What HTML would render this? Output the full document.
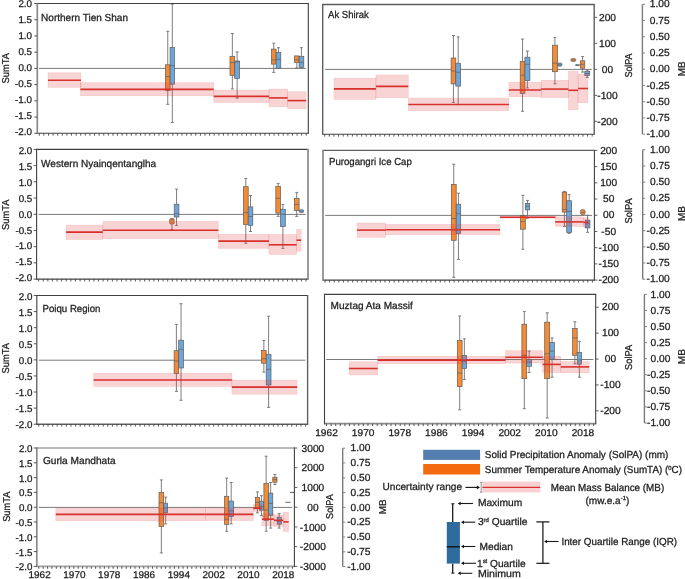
<!DOCTYPE html><html><head><meta charset="utf-8"><style>html,body{margin:0;padding:0;background:#fff;width:685px;height:579px;overflow:hidden}svg{display:block;text-rendering:geometricPrecision;will-change:transform}text{font-family:"Liberation Sans", sans-serif;stroke:#222;stroke-width:0.28px}</style></head><body>
<svg width="685" height="579" viewBox="0 0 685 579">
<rect width="685" height="579" fill="#fff"/>
<line x1="39" y1="68.4" x2="305.8" y2="68.4" stroke="#7a7a7a" stroke-width="1"/>
<line x1="167.75" y1="31.3" x2="167.75" y2="64.8" stroke="#707070" stroke-width="0.9"/>
<line x1="166.25" y1="31.3" x2="169.25" y2="31.3" stroke="#707070" stroke-width="0.9"/>
<line x1="167.75" y1="90.4" x2="167.75" y2="104.3" stroke="#707070" stroke-width="0.9"/>
<line x1="166.25" y1="104.3" x2="169.25" y2="104.3" stroke="#707070" stroke-width="0.9"/>
<rect x="165.4" y="64.8" width="4.7" height="25.6" fill="#f58a34" stroke="#5c5c5c" stroke-width="0.7"/>
<line x1="165.4" y1="76.6" x2="170.1" y2="76.6" stroke="#5c5c5c" stroke-width="0.7"/>
<line x1="172.3" y1="4.1" x2="172.3" y2="47.4" stroke="#707070" stroke-width="0.9"/>
<line x1="170.8" y1="4.1" x2="173.8" y2="4.1" stroke="#707070" stroke-width="0.9"/>
<line x1="172.3" y1="84.2" x2="172.3" y2="122.5" stroke="#707070" stroke-width="0.9"/>
<line x1="170.8" y1="122.5" x2="173.8" y2="122.5" stroke="#707070" stroke-width="0.9"/>
<rect x="170.1" y="47.4" width="4.4" height="36.8" fill="#6da6d8" stroke="#5c5c5c" stroke-width="0.7"/>
<line x1="170.1" y1="65.6" x2="174.5" y2="65.6" stroke="#5c5c5c" stroke-width="0.7"/>
<line x1="232.35" y1="33.5" x2="232.35" y2="56.3" stroke="#707070" stroke-width="0.9"/>
<line x1="230.85" y1="33.5" x2="233.85" y2="33.5" stroke="#707070" stroke-width="0.9"/>
<line x1="232.35" y1="75.3" x2="232.35" y2="88.9" stroke="#707070" stroke-width="0.9"/>
<line x1="230.85" y1="88.9" x2="233.85" y2="88.9" stroke="#707070" stroke-width="0.9"/>
<rect x="230" y="56.3" width="4.7" height="19" fill="#f58a34" stroke="#5c5c5c" stroke-width="0.7"/>
<line x1="230" y1="62.6" x2="234.7" y2="62.6" stroke="#5c5c5c" stroke-width="0.7"/>
<line x1="237.15" y1="51.9" x2="237.15" y2="61" stroke="#707070" stroke-width="0.9"/>
<line x1="235.65" y1="51.9" x2="238.65" y2="51.9" stroke="#707070" stroke-width="0.9"/>
<line x1="237.15" y1="78.4" x2="237.15" y2="98.2" stroke="#707070" stroke-width="0.9"/>
<line x1="235.65" y1="98.2" x2="238.65" y2="98.2" stroke="#707070" stroke-width="0.9"/>
<rect x="234.7" y="61" width="4.9" height="17.4" fill="#6da6d8" stroke="#5c5c5c" stroke-width="0.7"/>
<line x1="234.7" y1="61.8" x2="239.6" y2="61.8" stroke="#5c5c5c" stroke-width="0.7"/>
<line x1="273.75" y1="43.2" x2="273.75" y2="49.1" stroke="#707070" stroke-width="0.9"/>
<line x1="272.25" y1="43.2" x2="275.25" y2="43.2" stroke="#707070" stroke-width="0.9"/>
<line x1="273.75" y1="64.1" x2="273.75" y2="72.4" stroke="#707070" stroke-width="0.9"/>
<line x1="272.25" y1="72.4" x2="275.25" y2="72.4" stroke="#707070" stroke-width="0.9"/>
<rect x="271.4" y="49.1" width="4.7" height="15" fill="#f58a34" stroke="#5c5c5c" stroke-width="0.7"/>
<line x1="271.4" y1="60" x2="276.1" y2="60" stroke="#5c5c5c" stroke-width="0.7"/>
<line x1="278.45" y1="47.7" x2="278.45" y2="52.3" stroke="#707070" stroke-width="0.9"/>
<line x1="276.95" y1="47.7" x2="279.95" y2="47.7" stroke="#707070" stroke-width="0.9"/>
<rect x="276.1" y="52.3" width="4.7" height="15.9" fill="#6da6d8" stroke="#5c5c5c" stroke-width="0.7"/>
<line x1="276.1" y1="59.3" x2="280.8" y2="59.3" stroke="#5c5c5c" stroke-width="0.7"/>
<line x1="296.85" y1="62.6" x2="296.85" y2="68" stroke="#707070" stroke-width="0.9"/>
<line x1="295.35" y1="68" x2="298.35" y2="68" stroke="#707070" stroke-width="0.9"/>
<rect x="294.6" y="55.9" width="4.5" height="6.7" fill="#f58a34" stroke="#5c5c5c" stroke-width="0.7"/>
<line x1="294.6" y1="60" x2="299.1" y2="60" stroke="#5c5c5c" stroke-width="0.7"/>
<line x1="301.45" y1="47.7" x2="301.45" y2="56.3" stroke="#707070" stroke-width="0.9"/>
<line x1="299.95" y1="47.7" x2="302.95" y2="47.7" stroke="#707070" stroke-width="0.9"/>
<line x1="301.45" y1="67.3" x2="301.45" y2="68" stroke="#707070" stroke-width="0.9"/>
<line x1="299.95" y1="68" x2="302.95" y2="68" stroke="#707070" stroke-width="0.9"/>
<rect x="299.1" y="56.3" width="4.7" height="11" fill="#6da6d8" stroke="#5c5c5c" stroke-width="0.7"/>
<line x1="299.1" y1="62.4" x2="303.8" y2="62.4" stroke="#5c5c5c" stroke-width="0.7"/>
<rect x="48" y="72.8" width="33" height="14.6" fill="rgba(228,60,62,0.22)" stroke="rgba(228,60,62,0.18)" stroke-width="0.6"/>
<rect x="80.4" y="82.6" width="133.3" height="13.2" fill="rgba(228,60,62,0.22)" stroke="rgba(228,60,62,0.18)" stroke-width="0.6"/>
<rect x="213.7" y="90.1" width="55.4" height="12.4" fill="rgba(228,60,62,0.22)" stroke="rgba(228,60,62,0.18)" stroke-width="0.6"/>
<rect x="269.1" y="89" width="18.5" height="17.8" fill="rgba(228,60,62,0.22)" stroke="rgba(228,60,62,0.18)" stroke-width="0.6"/>
<rect x="287.6" y="91.7" width="18.5" height="17.1" fill="rgba(228,60,62,0.22)" stroke="rgba(228,60,62,0.18)" stroke-width="0.6"/>
<line x1="48" y1="80.3" x2="81" y2="80.3" stroke="#d8312c" stroke-width="1.6"/>
<line x1="80.4" y1="89.4" x2="213.7" y2="89.4" stroke="#d8312c" stroke-width="1.6"/>
<line x1="213.7" y1="96.4" x2="269.1" y2="96.4" stroke="#d8312c" stroke-width="1.6"/>
<line x1="269.1" y1="97.9" x2="287.6" y2="97.9" stroke="#d8312c" stroke-width="1.6"/>
<line x1="287.6" y1="100.6" x2="306.1" y2="100.6" stroke="#d8312c" stroke-width="1.6"/>
<line x1="36.8" y1="3.5" x2="308.8" y2="3.5" stroke="#404040" stroke-width="1.1"/>
<line x1="36.8" y1="133.3" x2="308.8" y2="133.3" stroke="#404040" stroke-width="1.1"/>
<line x1="37.3" y1="3" x2="37.3" y2="133.8" stroke="#8a8a8a" stroke-width="1.7"/>
<line x1="308.3" y1="3" x2="308.3" y2="133.8" stroke="#404040" stroke-width="1.1"/>
<path d="M39.3 133.3v2.4M43.9 133.3v2.4M48.51 133.3v2.4M53.11 133.3v2.4M57.71 133.3v2.4M62.32 133.3v2.4M66.92 133.3v2.4M71.52 133.3v2.4M76.13 133.3v2.4M80.73 133.3v2.4M85.33 133.3v2.4M89.94 133.3v2.4M94.54 133.3v2.4M99.14 133.3v2.4M103.75 133.3v2.4M108.35 133.3v2.4M112.96 133.3v2.4M117.56 133.3v2.4M122.16 133.3v2.4M126.77 133.3v2.4M131.37 133.3v2.4M135.97 133.3v2.4M140.58 133.3v2.4M145.18 133.3v2.4M149.78 133.3v2.4M154.39 133.3v2.4M158.99 133.3v2.4M163.59 133.3v2.4M168.2 133.3v2.4M172.8 133.3v2.4M177.4 133.3v2.4M182.01 133.3v2.4M186.61 133.3v2.4M191.21 133.3v2.4M195.82 133.3v2.4M200.42 133.3v2.4M205.02 133.3v2.4M209.63 133.3v2.4M214.23 133.3v2.4M218.83 133.3v2.4M223.44 133.3v2.4M228.04 133.3v2.4M232.64 133.3v2.4M237.25 133.3v2.4M241.85 133.3v2.4M246.46 133.3v2.4M251.06 133.3v2.4M255.66 133.3v2.4M260.27 133.3v2.4M264.87 133.3v2.4M269.47 133.3v2.4M274.08 133.3v2.4M278.68 133.3v2.4M283.28 133.3v2.4M287.89 133.3v2.4M292.49 133.3v2.4M297.09 133.3v2.4M301.7 133.3v2.4M306.3 133.3v2.4" stroke="#454545" stroke-width="0.9"/>
<text x="41.1" y="20.8" font-size="10.2" text-anchor="start" fill="#222" textLength="86.9" lengthAdjust="spacingAndGlyphs">Northern Tien Shan</text>
<line x1="325.1" y1="69.4" x2="591.8" y2="69.4" stroke="#7a7a7a" stroke-width="1"/>
<line x1="453.45" y1="35.5" x2="453.45" y2="58" stroke="#707070" stroke-width="0.9"/>
<line x1="451.95" y1="35.5" x2="454.95" y2="35.5" stroke="#707070" stroke-width="0.9"/>
<line x1="453.45" y1="83.9" x2="453.45" y2="102.4" stroke="#707070" stroke-width="0.9"/>
<line x1="451.95" y1="102.4" x2="454.95" y2="102.4" stroke="#707070" stroke-width="0.9"/>
<rect x="451.1" y="58" width="4.7" height="25.9" fill="#f58a34" stroke="#5c5c5c" stroke-width="0.7"/>
<line x1="451.1" y1="71" x2="455.8" y2="71" stroke="#5c5c5c" stroke-width="0.7"/>
<line x1="458.2" y1="36.9" x2="458.2" y2="63.2" stroke="#707070" stroke-width="0.9"/>
<line x1="456.7" y1="36.9" x2="459.7" y2="36.9" stroke="#707070" stroke-width="0.9"/>
<line x1="458.2" y1="86.1" x2="458.2" y2="104.6" stroke="#707070" stroke-width="0.9"/>
<line x1="456.7" y1="104.6" x2="459.7" y2="104.6" stroke="#707070" stroke-width="0.9"/>
<rect x="455.8" y="63.2" width="4.8" height="22.9" fill="#6da6d8" stroke="#5c5c5c" stroke-width="0.7"/>
<line x1="455.8" y1="72.2" x2="460.6" y2="72.2" stroke="#5c5c5c" stroke-width="0.7"/>
<line x1="522.55" y1="39" x2="522.55" y2="61.5" stroke="#707070" stroke-width="0.9"/>
<line x1="521.05" y1="39" x2="524.05" y2="39" stroke="#707070" stroke-width="0.9"/>
<line x1="522.55" y1="93.4" x2="522.55" y2="111.3" stroke="#707070" stroke-width="0.9"/>
<line x1="521.05" y1="111.3" x2="524.05" y2="111.3" stroke="#707070" stroke-width="0.9"/>
<rect x="520.2" y="61.5" width="4.7" height="31.9" fill="#f58a34" stroke="#5c5c5c" stroke-width="0.7"/>
<line x1="520.2" y1="75.2" x2="524.9" y2="75.2" stroke="#5c5c5c" stroke-width="0.7"/>
<line x1="527.4" y1="51" x2="527.4" y2="57.2" stroke="#707070" stroke-width="0.9"/>
<line x1="525.9" y1="51" x2="528.9" y2="51" stroke="#707070" stroke-width="0.9"/>
<line x1="527.4" y1="80.5" x2="527.4" y2="88" stroke="#707070" stroke-width="0.9"/>
<line x1="525.9" y1="88" x2="528.9" y2="88" stroke="#707070" stroke-width="0.9"/>
<rect x="524.9" y="57.2" width="5" height="23.3" fill="#6da6d8" stroke="#5c5c5c" stroke-width="0.7"/>
<line x1="524.9" y1="64.3" x2="529.9" y2="64.3" stroke="#5c5c5c" stroke-width="0.7"/>
<line x1="554.95" y1="37.4" x2="554.95" y2="45.2" stroke="#707070" stroke-width="0.9"/>
<line x1="553.45" y1="37.4" x2="556.45" y2="37.4" stroke="#707070" stroke-width="0.9"/>
<line x1="554.95" y1="71.7" x2="554.95" y2="83.8" stroke="#707070" stroke-width="0.9"/>
<line x1="553.45" y1="83.8" x2="556.45" y2="83.8" stroke="#707070" stroke-width="0.9"/>
<rect x="552.4" y="45.2" width="5.1" height="26.5" fill="#f58a34" stroke="#5c5c5c" stroke-width="0.7"/>
<line x1="552.4" y1="63.1" x2="557.5" y2="63.1" stroke="#5c5c5c" stroke-width="0.7"/>
<rect x="557.5" y="63.1" width="4.4" height="3.1" fill="#6da6d8" stroke="#5c5c5c" stroke-width="0.7" rx="1"/>
<line x1="558.3" y1="64.7" x2="561.1" y2="64.7" stroke="#5c5c5c" stroke-width="0.7"/>
<rect x="570.8" y="58.6" width="5.1" height="2.8" fill="#f58a34" stroke="#5c5c5c" stroke-width="0.7" rx="1.4"/>
<line x1="571.6" y1="60" x2="575.1" y2="60" stroke="#5c5c5c" stroke-width="0.7"/>
<rect x="575.7" y="64.8" width="3.6" height="0.6" fill="#6da6d8" stroke="#5c5c5c" stroke-width="0.7"/>
<line x1="575.7" y1="65.1" x2="579.3" y2="65.1" stroke="#5c5c5c" stroke-width="0.7"/>
<line x1="582.6" y1="56.6" x2="582.6" y2="60.8" stroke="#707070" stroke-width="0.9"/>
<line x1="581.1" y1="56.6" x2="584.1" y2="56.6" stroke="#707070" stroke-width="0.9"/>
<line x1="582.6" y1="68.2" x2="582.6" y2="72.1" stroke="#707070" stroke-width="0.9"/>
<line x1="581.1" y1="72.1" x2="584.1" y2="72.1" stroke="#707070" stroke-width="0.9"/>
<rect x="580.4" y="60.8" width="4.4" height="7.4" fill="#f58a34" stroke="#5c5c5c" stroke-width="0.7"/>
<line x1="580.4" y1="64.3" x2="584.8" y2="64.3" stroke="#5c5c5c" stroke-width="0.7"/>
<line x1="587.25" y1="70.1" x2="587.25" y2="71.3" stroke="#707070" stroke-width="0.9"/>
<line x1="585.75" y1="70.1" x2="588.75" y2="70.1" stroke="#707070" stroke-width="0.9"/>
<line x1="587.25" y1="75.5" x2="587.25" y2="77.4" stroke="#707070" stroke-width="0.9"/>
<line x1="585.75" y1="77.4" x2="588.75" y2="77.4" stroke="#707070" stroke-width="0.9"/>
<rect x="584.8" y="71.3" width="4.9" height="4.2" fill="#6da6d8" stroke="#5c5c5c" stroke-width="0.7"/>
<line x1="584.8" y1="73.5" x2="589.7" y2="73.5" stroke="#5c5c5c" stroke-width="0.7"/>
<rect x="333.9" y="78.2" width="42" height="21.2" fill="rgba(228,60,62,0.22)" stroke="rgba(228,60,62,0.18)" stroke-width="0.6"/>
<rect x="375.9" y="74.9" width="32.4" height="22.8" fill="rgba(228,60,62,0.22)" stroke="rgba(228,60,62,0.18)" stroke-width="0.6"/>
<rect x="408.3" y="98.1" width="100.6" height="12.6" fill="rgba(228,60,62,0.22)" stroke="rgba(228,60,62,0.18)" stroke-width="0.6"/>
<rect x="508.9" y="82.3" width="32.3" height="14.5" fill="rgba(228,60,62,0.22)" stroke="rgba(228,60,62,0.18)" stroke-width="0.6"/>
<rect x="541.2" y="80.2" width="27.2" height="17.4" fill="rgba(228,60,62,0.22)" stroke="rgba(228,60,62,0.18)" stroke-width="0.6"/>
<rect x="568.4" y="71.2" width="9.7" height="38.6" fill="rgba(228,60,62,0.22)" stroke="rgba(228,60,62,0.18)" stroke-width="0.6"/>
<rect x="578.1" y="74" width="9.8" height="28.8" fill="rgba(228,60,62,0.22)" stroke="rgba(228,60,62,0.18)" stroke-width="0.6"/>
<line x1="333.9" y1="88.9" x2="375.9" y2="88.9" stroke="#d8312c" stroke-width="1.6"/>
<line x1="375.9" y1="86.4" x2="408.3" y2="86.4" stroke="#d8312c" stroke-width="1.6"/>
<line x1="408.3" y1="104.5" x2="508.9" y2="104.5" stroke="#d8312c" stroke-width="1.6"/>
<line x1="508.9" y1="90" x2="541.2" y2="90" stroke="#d8312c" stroke-width="1.6"/>
<line x1="541.2" y1="89.1" x2="568.4" y2="89.1" stroke="#d8312c" stroke-width="1.6"/>
<line x1="568.4" y1="90.3" x2="578.1" y2="90.3" stroke="#d8312c" stroke-width="1.6"/>
<line x1="578.1" y1="88.5" x2="587.9" y2="88.5" stroke="#d8312c" stroke-width="1.6"/>
<line x1="322.2" y1="4.5" x2="594.7" y2="4.5" stroke="#5e5e5e" stroke-width="1.4"/>
<line x1="322.2" y1="134.2" x2="594.7" y2="134.2" stroke="#404040" stroke-width="1.1"/>
<line x1="322.7" y1="4" x2="322.7" y2="134.7" stroke="#5e5e5e" stroke-width="1.4"/>
<line x1="594.2" y1="4" x2="594.2" y2="134.7" stroke="#5e5e5e" stroke-width="1.4"/>
<path d="M324.7 134.2v2.4M329.31 134.2v2.4M333.92 134.2v2.4M338.54 134.2v2.4M343.15 134.2v2.4M347.76 134.2v2.4M352.37 134.2v2.4M356.98 134.2v2.4M361.6 134.2v2.4M366.21 134.2v2.4M370.82 134.2v2.4M375.43 134.2v2.4M380.04 134.2v2.4M384.66 134.2v2.4M389.27 134.2v2.4M393.88 134.2v2.4M398.49 134.2v2.4M403.11 134.2v2.4M407.72 134.2v2.4M412.33 134.2v2.4M416.94 134.2v2.4M421.55 134.2v2.4M426.17 134.2v2.4M430.78 134.2v2.4M435.39 134.2v2.4M440 134.2v2.4M444.61 134.2v2.4M449.23 134.2v2.4M453.84 134.2v2.4M458.45 134.2v2.4M463.06 134.2v2.4M467.67 134.2v2.4M472.29 134.2v2.4M476.9 134.2v2.4M481.51 134.2v2.4M486.12 134.2v2.4M490.73 134.2v2.4M495.35 134.2v2.4M499.96 134.2v2.4M504.57 134.2v2.4M509.18 134.2v2.4M513.79 134.2v2.4M518.41 134.2v2.4M523.02 134.2v2.4M527.63 134.2v2.4M532.24 134.2v2.4M536.86 134.2v2.4M541.47 134.2v2.4M546.08 134.2v2.4M550.69 134.2v2.4M555.3 134.2v2.4M559.92 134.2v2.4M564.53 134.2v2.4M569.14 134.2v2.4M573.75 134.2v2.4M578.36 134.2v2.4M582.98 134.2v2.4M587.59 134.2v2.4M592.2 134.2v2.4" stroke="#454545" stroke-width="0.9"/>
<text x="328.1" y="17.7" font-size="10.2" text-anchor="start" fill="#222" textLength="40.7" lengthAdjust="spacingAndGlyphs">Ak Shirak</text>
<line x1="38.6" y1="214.4" x2="305.8" y2="214.4" stroke="#7a7a7a" stroke-width="1"/>
<line x1="171.95" y1="224" x2="171.95" y2="229.5" stroke="#707070" stroke-width="0.9"/>
<line x1="170.45" y1="229.5" x2="173.45" y2="229.5" stroke="#707070" stroke-width="0.9"/>
<rect x="169.7" y="218.5" width="4.5" height="5.5" fill="#f58a34" stroke="#5c5c5c" stroke-width="0.7" rx="1.2"/>
<line x1="170.5" y1="219.9" x2="173.4" y2="219.9" stroke="#5c5c5c" stroke-width="0.7"/>
<line x1="176.55" y1="189.1" x2="176.55" y2="204.2" stroke="#707070" stroke-width="0.9"/>
<line x1="175.05" y1="189.1" x2="178.05" y2="189.1" stroke="#707070" stroke-width="0.9"/>
<line x1="176.55" y1="217" x2="176.55" y2="225.4" stroke="#707070" stroke-width="0.9"/>
<line x1="175.05" y1="225.4" x2="178.05" y2="225.4" stroke="#707070" stroke-width="0.9"/>
<rect x="174.2" y="204.2" width="4.7" height="12.8" fill="#6da6d8" stroke="#5c5c5c" stroke-width="0.7"/>
<line x1="174.2" y1="213.8" x2="178.9" y2="213.8" stroke="#5c5c5c" stroke-width="0.7"/>
<line x1="245.8" y1="178.5" x2="245.8" y2="186.7" stroke="#707070" stroke-width="0.9"/>
<line x1="244.3" y1="178.5" x2="247.3" y2="178.5" stroke="#707070" stroke-width="0.9"/>
<line x1="245.8" y1="224.4" x2="245.8" y2="243.3" stroke="#707070" stroke-width="0.9"/>
<line x1="244.3" y1="243.3" x2="247.3" y2="243.3" stroke="#707070" stroke-width="0.9"/>
<rect x="243.4" y="186.7" width="4.8" height="37.7" fill="#f58a34" stroke="#5c5c5c" stroke-width="0.7"/>
<line x1="243.4" y1="212.6" x2="248.2" y2="212.6" stroke="#5c5c5c" stroke-width="0.7"/>
<line x1="250.5" y1="195.4" x2="250.5" y2="206.9" stroke="#707070" stroke-width="0.9"/>
<line x1="249" y1="195.4" x2="252" y2="195.4" stroke="#707070" stroke-width="0.9"/>
<line x1="250.5" y1="225.3" x2="250.5" y2="231.5" stroke="#707070" stroke-width="0.9"/>
<line x1="249" y1="231.5" x2="252" y2="231.5" stroke="#707070" stroke-width="0.9"/>
<rect x="248.2" y="206.9" width="4.6" height="18.4" fill="#6da6d8" stroke="#5c5c5c" stroke-width="0.7"/>
<line x1="248.2" y1="216.4" x2="252.8" y2="216.4" stroke="#5c5c5c" stroke-width="0.7"/>
<line x1="278.15" y1="183.4" x2="278.15" y2="186.3" stroke="#707070" stroke-width="0.9"/>
<line x1="276.65" y1="183.4" x2="279.65" y2="183.4" stroke="#707070" stroke-width="0.9"/>
<line x1="278.15" y1="213.1" x2="278.15" y2="216.4" stroke="#707070" stroke-width="0.9"/>
<line x1="276.65" y1="216.4" x2="279.65" y2="216.4" stroke="#707070" stroke-width="0.9"/>
<rect x="275.8" y="186.3" width="4.7" height="26.8" fill="#f58a34" stroke="#5c5c5c" stroke-width="0.7"/>
<line x1="275.8" y1="198.3" x2="280.5" y2="198.3" stroke="#5c5c5c" stroke-width="0.7"/>
<line x1="282.9" y1="204.4" x2="282.9" y2="209.3" stroke="#707070" stroke-width="0.9"/>
<line x1="281.4" y1="204.4" x2="284.4" y2="204.4" stroke="#707070" stroke-width="0.9"/>
<line x1="282.9" y1="226.6" x2="282.9" y2="248.4" stroke="#707070" stroke-width="0.9"/>
<line x1="281.4" y1="248.4" x2="284.4" y2="248.4" stroke="#707070" stroke-width="0.9"/>
<rect x="280.5" y="209.3" width="4.8" height="17.3" fill="#6da6d8" stroke="#5c5c5c" stroke-width="0.7"/>
<line x1="280.5" y1="214.3" x2="285.3" y2="214.3" stroke="#5c5c5c" stroke-width="0.7"/>
<line x1="296.7" y1="192.4" x2="296.7" y2="198.3" stroke="#707070" stroke-width="0.9"/>
<line x1="295.2" y1="192.4" x2="298.2" y2="192.4" stroke="#707070" stroke-width="0.9"/>
<line x1="296.7" y1="210.5" x2="296.7" y2="216.4" stroke="#707070" stroke-width="0.9"/>
<line x1="295.2" y1="216.4" x2="298.2" y2="216.4" stroke="#707070" stroke-width="0.9"/>
<rect x="294.3" y="198.3" width="4.8" height="12.2" fill="#f58a34" stroke="#5c5c5c" stroke-width="0.7"/>
<line x1="294.3" y1="204.4" x2="299.1" y2="204.4" stroke="#5c5c5c" stroke-width="0.7"/>
<rect x="299.1" y="209.7" width="4.6" height="2.9" fill="#6da6d8" stroke="#5c5c5c" stroke-width="0.7" rx="1.4"/>
<line x1="299.9" y1="211.2" x2="302.9" y2="211.2" stroke="#5c5c5c" stroke-width="0.7"/>
<rect x="66.1" y="225.1" width="36.7" height="14.4" fill="rgba(228,60,62,0.22)" stroke="rgba(228,60,62,0.18)" stroke-width="0.6"/>
<rect x="102.8" y="221.4" width="115.6" height="17.2" fill="rgba(228,60,62,0.22)" stroke="rgba(228,60,62,0.18)" stroke-width="0.6"/>
<rect x="218.4" y="234.3" width="50.5" height="14.1" fill="rgba(228,60,62,0.22)" stroke="rgba(228,60,62,0.18)" stroke-width="0.6"/>
<rect x="268.9" y="234.5" width="27.7" height="20" fill="rgba(228,60,62,0.22)" stroke="rgba(228,60,62,0.18)" stroke-width="0.6"/>
<rect x="296.6" y="229.4" width="4.6" height="21.8" fill="rgba(228,60,62,0.22)" stroke="rgba(228,60,62,0.18)" stroke-width="0.6"/>
<line x1="66.1" y1="232.1" x2="102.8" y2="232.1" stroke="#d8312c" stroke-width="1.6"/>
<line x1="102.8" y1="230.2" x2="218.4" y2="230.2" stroke="#d8312c" stroke-width="1.6"/>
<line x1="218.4" y1="241.1" x2="268.9" y2="241.1" stroke="#d8312c" stroke-width="1.6"/>
<line x1="268.9" y1="244.8" x2="296.6" y2="244.8" stroke="#d8312c" stroke-width="1.6"/>
<line x1="296.6" y1="240.2" x2="301.2" y2="240.2" stroke="#d8312c" stroke-width="1.6"/>
<line x1="36.1" y1="149.4" x2="308.5" y2="149.4" stroke="#404040" stroke-width="1.1"/>
<line x1="36.1" y1="279.1" x2="308.5" y2="279.1" stroke="#404040" stroke-width="1.1"/>
<line x1="36.6" y1="148.9" x2="36.6" y2="279.6" stroke="#404040" stroke-width="1.1"/>
<line x1="308" y1="148.9" x2="308" y2="279.6" stroke="#8a8a8a" stroke-width="1.7"/>
<path d="M38.6 279.1v2.4M43.21 279.1v2.4M47.82 279.1v2.4M52.43 279.1v2.4M57.04 279.1v2.4M61.65 279.1v2.4M66.26 279.1v2.4M70.87 279.1v2.4M75.48 279.1v2.4M80.09 279.1v2.4M84.7 279.1v2.4M89.31 279.1v2.4M93.92 279.1v2.4M98.53 279.1v2.4M103.14 279.1v2.4M107.76 279.1v2.4M112.37 279.1v2.4M116.98 279.1v2.4M121.59 279.1v2.4M126.2 279.1v2.4M130.81 279.1v2.4M135.42 279.1v2.4M140.03 279.1v2.4M144.64 279.1v2.4M149.25 279.1v2.4M153.86 279.1v2.4M158.47 279.1v2.4M163.08 279.1v2.4M167.69 279.1v2.4M172.3 279.1v2.4M176.91 279.1v2.4M181.52 279.1v2.4M186.13 279.1v2.4M190.74 279.1v2.4M195.35 279.1v2.4M199.96 279.1v2.4M204.57 279.1v2.4M209.18 279.1v2.4M213.79 279.1v2.4M218.4 279.1v2.4M223.01 279.1v2.4M227.62 279.1v2.4M232.23 279.1v2.4M236.84 279.1v2.4M241.46 279.1v2.4M246.07 279.1v2.4M250.68 279.1v2.4M255.29 279.1v2.4M259.9 279.1v2.4M264.51 279.1v2.4M269.12 279.1v2.4M273.73 279.1v2.4M278.34 279.1v2.4M282.95 279.1v2.4M287.56 279.1v2.4M292.17 279.1v2.4M296.78 279.1v2.4M301.39 279.1v2.4M306 279.1v2.4" stroke="#454545" stroke-width="0.9"/>
<text x="41.1" y="167.2" font-size="10.2" text-anchor="start" fill="#222" textLength="115.1" lengthAdjust="spacingAndGlyphs">Western Nyainqentanglha</text>
<line x1="325.2" y1="215.4" x2="592.1" y2="215.4" stroke="#7a7a7a" stroke-width="1"/>
<line x1="453.75" y1="164.2" x2="453.75" y2="184.4" stroke="#707070" stroke-width="0.9"/>
<line x1="452.25" y1="164.2" x2="455.25" y2="164.2" stroke="#707070" stroke-width="0.9"/>
<line x1="453.75" y1="240.3" x2="453.75" y2="277.4" stroke="#707070" stroke-width="0.9"/>
<line x1="452.25" y1="277.4" x2="455.25" y2="277.4" stroke="#707070" stroke-width="0.9"/>
<rect x="451.3" y="184.4" width="4.9" height="55.9" fill="#f58a34" stroke="#5c5c5c" stroke-width="0.7"/>
<line x1="451.3" y1="218.5" x2="456.2" y2="218.5" stroke="#5c5c5c" stroke-width="0.7"/>
<line x1="458.45" y1="193.2" x2="458.45" y2="204.2" stroke="#707070" stroke-width="0.9"/>
<line x1="456.95" y1="193.2" x2="459.95" y2="193.2" stroke="#707070" stroke-width="0.9"/>
<line x1="458.45" y1="233.3" x2="458.45" y2="259.4" stroke="#707070" stroke-width="0.9"/>
<line x1="456.95" y1="259.4" x2="459.95" y2="259.4" stroke="#707070" stroke-width="0.9"/>
<rect x="456.2" y="204.2" width="4.5" height="29.1" fill="#6da6d8" stroke="#5c5c5c" stroke-width="0.7"/>
<line x1="456.2" y1="213.7" x2="460.7" y2="213.7" stroke="#5c5c5c" stroke-width="0.7"/>
<line x1="522.9" y1="195.3" x2="522.9" y2="215.5" stroke="#707070" stroke-width="0.9"/>
<line x1="521.4" y1="195.3" x2="524.4" y2="195.3" stroke="#707070" stroke-width="0.9"/>
<line x1="522.9" y1="229.2" x2="522.9" y2="249.3" stroke="#707070" stroke-width="0.9"/>
<line x1="521.4" y1="249.3" x2="524.4" y2="249.3" stroke="#707070" stroke-width="0.9"/>
<rect x="520.5" y="215.5" width="4.8" height="13.7" fill="#f58a34" stroke="#5c5c5c" stroke-width="0.7"/>
<line x1="520.5" y1="221.6" x2="525.3" y2="221.6" stroke="#5c5c5c" stroke-width="0.7"/>
<line x1="527.5" y1="200.4" x2="527.5" y2="203.4" stroke="#707070" stroke-width="0.9"/>
<line x1="526" y1="200.4" x2="529" y2="200.4" stroke="#707070" stroke-width="0.9"/>
<line x1="527.5" y1="209.9" x2="527.5" y2="218.2" stroke="#707070" stroke-width="0.9"/>
<line x1="526" y1="218.2" x2="529" y2="218.2" stroke="#707070" stroke-width="0.9"/>
<rect x="525.3" y="203.4" width="4.4" height="6.5" fill="#6da6d8" stroke="#5c5c5c" stroke-width="0.7"/>
<line x1="525.3" y1="206.3" x2="529.7" y2="206.3" stroke="#5c5c5c" stroke-width="0.7"/>
<line x1="564.45" y1="191.4" x2="564.45" y2="192.1" stroke="#707070" stroke-width="0.9"/>
<line x1="562.95" y1="191.4" x2="565.95" y2="191.4" stroke="#707070" stroke-width="0.9"/>
<line x1="564.45" y1="212.1" x2="564.45" y2="226.4" stroke="#707070" stroke-width="0.9"/>
<line x1="562.95" y1="226.4" x2="565.95" y2="226.4" stroke="#707070" stroke-width="0.9"/>
<rect x="562.2" y="192.1" width="4.5" height="20" fill="#f58a34" stroke="#5c5c5c" stroke-width="0.7"/>
<line x1="562.2" y1="209.6" x2="566.7" y2="209.6" stroke="#5c5c5c" stroke-width="0.7"/>
<line x1="569.15" y1="194.6" x2="569.15" y2="200.7" stroke="#707070" stroke-width="0.9"/>
<line x1="567.65" y1="194.6" x2="570.65" y2="194.6" stroke="#707070" stroke-width="0.9"/>
<line x1="569.15" y1="232.6" x2="569.15" y2="233.3" stroke="#707070" stroke-width="0.9"/>
<line x1="567.65" y1="233.3" x2="570.65" y2="233.3" stroke="#707070" stroke-width="0.9"/>
<rect x="566.7" y="200.7" width="4.9" height="31.9" fill="#6da6d8" stroke="#5c5c5c" stroke-width="0.7"/>
<line x1="566.7" y1="211.4" x2="571.6" y2="211.4" stroke="#5c5c5c" stroke-width="0.7"/>
<rect x="580.4" y="209.6" width="4.8" height="5.1" fill="#f58a34" stroke="#5c5c5c" stroke-width="0.7" rx="2"/>
<line x1="581.2" y1="212.4" x2="584.4" y2="212.4" stroke="#5c5c5c" stroke-width="0.7"/>
<line x1="587.55" y1="215.3" x2="587.55" y2="220.1" stroke="#707070" stroke-width="0.9"/>
<line x1="586.05" y1="215.3" x2="589.05" y2="215.3" stroke="#707070" stroke-width="0.9"/>
<line x1="587.55" y1="227.9" x2="587.55" y2="232.3" stroke="#707070" stroke-width="0.9"/>
<line x1="586.05" y1="232.3" x2="589.05" y2="232.3" stroke="#707070" stroke-width="0.9"/>
<rect x="585.2" y="220.1" width="4.7" height="7.8" fill="#6da6d8" stroke="#5c5c5c" stroke-width="0.7"/>
<line x1="585.2" y1="223.8" x2="589.9" y2="223.8" stroke="#5c5c5c" stroke-width="0.7"/>
<rect x="357" y="223" width="28.6" height="14.4" fill="rgba(228,60,62,0.22)" stroke="rgba(228,60,62,0.18)" stroke-width="0.6"/>
<rect x="385.6" y="224.4" width="114.4" height="10.3" fill="rgba(228,60,62,0.22)" stroke="rgba(228,60,62,0.18)" stroke-width="0.6"/>
<rect x="500" y="216.2" width="55.3" height="2" fill="rgba(228,60,62,0.22)" stroke="rgba(228,60,62,0.18)" stroke-width="0.6"/>
<rect x="555.3" y="216.8" width="28" height="9.6" fill="rgba(228,60,62,0.22)" stroke="rgba(228,60,62,0.18)" stroke-width="0.6"/>
<rect x="583.3" y="217.7" width="5.1" height="9.3" fill="rgba(228,60,62,0.22)" stroke="rgba(228,60,62,0.18)" stroke-width="0.6"/>
<line x1="357" y1="230.1" x2="385.6" y2="230.1" stroke="#d8312c" stroke-width="1.6"/>
<line x1="385.6" y1="229.7" x2="500" y2="229.7" stroke="#d8312c" stroke-width="1.6"/>
<line x1="500" y1="217.2" x2="555.3" y2="217.2" stroke="#d8312c" stroke-width="1.6"/>
<line x1="555.3" y1="221.9" x2="583.3" y2="221.9" stroke="#d8312c" stroke-width="1.6"/>
<line x1="583.3" y1="222.3" x2="588.4" y2="222.3" stroke="#d8312c" stroke-width="1.6"/>
<line x1="322.5" y1="150.4" x2="594.9" y2="150.4" stroke="#5e5e5e" stroke-width="1.4"/>
<line x1="322.5" y1="280.1" x2="594.9" y2="280.1" stroke="#404040" stroke-width="1.1"/>
<line x1="323" y1="149.9" x2="323" y2="280.6" stroke="#8a8a8a" stroke-width="1.7"/>
<line x1="594.4" y1="149.9" x2="594.4" y2="280.6" stroke="#404040" stroke-width="1.1"/>
<path d="M325 280.1v2.4M329.61 280.1v2.4M334.22 280.1v2.4M338.83 280.1v2.4M343.44 280.1v2.4M348.05 280.1v2.4M352.66 280.1v2.4M357.27 280.1v2.4M361.88 280.1v2.4M366.49 280.1v2.4M371.1 280.1v2.4M375.71 280.1v2.4M380.32 280.1v2.4M384.93 280.1v2.4M389.54 280.1v2.4M394.16 280.1v2.4M398.77 280.1v2.4M403.38 280.1v2.4M407.99 280.1v2.4M412.6 280.1v2.4M417.21 280.1v2.4M421.82 280.1v2.4M426.43 280.1v2.4M431.04 280.1v2.4M435.65 280.1v2.4M440.26 280.1v2.4M444.87 280.1v2.4M449.48 280.1v2.4M454.09 280.1v2.4M458.7 280.1v2.4M463.31 280.1v2.4M467.92 280.1v2.4M472.53 280.1v2.4M477.14 280.1v2.4M481.75 280.1v2.4M486.36 280.1v2.4M490.97 280.1v2.4M495.58 280.1v2.4M500.19 280.1v2.4M504.8 280.1v2.4M509.41 280.1v2.4M514.02 280.1v2.4M518.63 280.1v2.4M523.24 280.1v2.4M527.86 280.1v2.4M532.47 280.1v2.4M537.08 280.1v2.4M541.69 280.1v2.4M546.3 280.1v2.4M550.91 280.1v2.4M555.52 280.1v2.4M560.13 280.1v2.4M564.74 280.1v2.4M569.35 280.1v2.4M573.96 280.1v2.4M578.57 280.1v2.4M583.18 280.1v2.4M587.79 280.1v2.4M592.4 280.1v2.4" stroke="#454545" stroke-width="0.9"/>
<text x="329" y="164.6" font-size="10.2" text-anchor="start" fill="#222" textLength="82.8" lengthAdjust="spacingAndGlyphs">Purogangri Ice Cap</text>
<line x1="38.8" y1="360.2" x2="305.4" y2="360.2" stroke="#7a7a7a" stroke-width="1"/>
<line x1="176.4" y1="324.4" x2="176.4" y2="350.7" stroke="#707070" stroke-width="0.9"/>
<line x1="174.9" y1="324.4" x2="177.9" y2="324.4" stroke="#707070" stroke-width="0.9"/>
<line x1="176.4" y1="373.4" x2="176.4" y2="391.4" stroke="#707070" stroke-width="0.9"/>
<line x1="174.9" y1="391.4" x2="177.9" y2="391.4" stroke="#707070" stroke-width="0.9"/>
<rect x="174.1" y="350.7" width="4.6" height="22.7" fill="#f58a34" stroke="#5c5c5c" stroke-width="0.7"/>
<line x1="174.1" y1="360.9" x2="178.7" y2="360.9" stroke="#5c5c5c" stroke-width="0.7"/>
<line x1="181.05" y1="303.7" x2="181.05" y2="340.2" stroke="#707070" stroke-width="0.9"/>
<line x1="179.55" y1="303.7" x2="182.55" y2="303.7" stroke="#707070" stroke-width="0.9"/>
<line x1="181.05" y1="368" x2="181.05" y2="400.3" stroke="#707070" stroke-width="0.9"/>
<line x1="179.55" y1="400.3" x2="182.55" y2="400.3" stroke="#707070" stroke-width="0.9"/>
<rect x="178.7" y="340.2" width="4.7" height="27.8" fill="#6da6d8" stroke="#5c5c5c" stroke-width="0.7"/>
<line x1="178.7" y1="349.3" x2="183.4" y2="349.3" stroke="#5c5c5c" stroke-width="0.7"/>
<line x1="263.85" y1="340.4" x2="263.85" y2="350.4" stroke="#707070" stroke-width="0.9"/>
<line x1="262.35" y1="340.4" x2="265.35" y2="340.4" stroke="#707070" stroke-width="0.9"/>
<line x1="263.85" y1="363.2" x2="263.85" y2="372.1" stroke="#707070" stroke-width="0.9"/>
<line x1="262.35" y1="372.1" x2="265.35" y2="372.1" stroke="#707070" stroke-width="0.9"/>
<rect x="261.5" y="350.4" width="4.7" height="12.8" fill="#f58a34" stroke="#5c5c5c" stroke-width="0.7"/>
<line x1="261.5" y1="358.7" x2="266.2" y2="358.7" stroke="#5c5c5c" stroke-width="0.7"/>
<line x1="268.6" y1="316.2" x2="268.6" y2="354.3" stroke="#707070" stroke-width="0.9"/>
<line x1="267.1" y1="316.2" x2="270.1" y2="316.2" stroke="#707070" stroke-width="0.9"/>
<line x1="268.6" y1="385" x2="268.6" y2="407.4" stroke="#707070" stroke-width="0.9"/>
<line x1="267.1" y1="407.4" x2="270.1" y2="407.4" stroke="#707070" stroke-width="0.9"/>
<rect x="266.2" y="354.3" width="4.8" height="30.7" fill="#6da6d8" stroke="#5c5c5c" stroke-width="0.7"/>
<line x1="266.2" y1="369.4" x2="271" y2="369.4" stroke="#5c5c5c" stroke-width="0.7"/>
<rect x="93.6" y="373.2" width="138.3" height="13.2" fill="rgba(228,60,62,0.22)" stroke="rgba(228,60,62,0.18)" stroke-width="0.6"/>
<rect x="231.9" y="380.1" width="65.2" height="14.1" fill="rgba(228,60,62,0.22)" stroke="rgba(228,60,62,0.18)" stroke-width="0.6"/>
<line x1="93.6" y1="380" x2="231.9" y2="380" stroke="#d8312c" stroke-width="1.6"/>
<line x1="231.9" y1="387.1" x2="297.1" y2="387.1" stroke="#d8312c" stroke-width="1.6"/>
<line x1="36.3" y1="295.5" x2="308.1" y2="295.5" stroke="#404040" stroke-width="1.1"/>
<line x1="36.3" y1="424.2" x2="308.1" y2="424.2" stroke="#5e5e5e" stroke-width="1.4"/>
<line x1="36.8" y1="295" x2="36.8" y2="424.7" stroke="#404040" stroke-width="1.1"/>
<line x1="307.6" y1="295" x2="307.6" y2="424.7" stroke="#5e5e5e" stroke-width="1.4"/>
<path d="M38.8 424.2v2.4M43.4 424.2v2.4M48 424.2v2.4M52.6 424.2v2.4M57.2 424.2v2.4M61.8 424.2v2.4M66.4 424.2v2.4M71 424.2v2.4M75.6 424.2v2.4M80.2 424.2v2.4M84.8 424.2v2.4M89.4 424.2v2.4M94 424.2v2.4M98.6 424.2v2.4M103.2 424.2v2.4M107.8 424.2v2.4M112.4 424.2v2.4M117 424.2v2.4M121.6 424.2v2.4M126.2 424.2v2.4M130.8 424.2v2.4M135.4 424.2v2.4M140 424.2v2.4M144.6 424.2v2.4M149.2 424.2v2.4M153.8 424.2v2.4M158.4 424.2v2.4M163 424.2v2.4M167.6 424.2v2.4M172.2 424.2v2.4M176.8 424.2v2.4M181.4 424.2v2.4M186 424.2v2.4M190.6 424.2v2.4M195.2 424.2v2.4M199.8 424.2v2.4M204.4 424.2v2.4M209 424.2v2.4M213.6 424.2v2.4M218.2 424.2v2.4M222.8 424.2v2.4M227.4 424.2v2.4M232 424.2v2.4M236.6 424.2v2.4M241.2 424.2v2.4M245.8 424.2v2.4M250.4 424.2v2.4M255 424.2v2.4M259.6 424.2v2.4M264.2 424.2v2.4M268.8 424.2v2.4M273.4 424.2v2.4M278 424.2v2.4M282.6 424.2v2.4M287.2 424.2v2.4M291.8 424.2v2.4M296.4 424.2v2.4M301 424.2v2.4M305.6 424.2v2.4" stroke="#454545" stroke-width="0.9"/>
<text x="42.6" y="311.9" font-size="10.2" text-anchor="start" fill="#222" textLength="57.8" lengthAdjust="spacingAndGlyphs">Poiqu Region</text>
<line x1="326.2" y1="359.5" x2="593.3" y2="359.5" stroke="#7a7a7a" stroke-width="1"/>
<line x1="459.7" y1="316" x2="459.7" y2="340.4" stroke="#707070" stroke-width="0.9"/>
<line x1="458.2" y1="316" x2="461.2" y2="316" stroke="#707070" stroke-width="0.9"/>
<line x1="459.7" y1="386.6" x2="459.7" y2="409.8" stroke="#707070" stroke-width="0.9"/>
<line x1="458.2" y1="409.8" x2="461.2" y2="409.8" stroke="#707070" stroke-width="0.9"/>
<rect x="457.3" y="340.4" width="4.8" height="46.2" fill="#f58a34" stroke="#5c5c5c" stroke-width="0.7"/>
<line x1="457.3" y1="373" x2="462.1" y2="373" stroke="#5c5c5c" stroke-width="0.7"/>
<line x1="464.35" y1="338.8" x2="464.35" y2="355.5" stroke="#707070" stroke-width="0.9"/>
<line x1="462.85" y1="338.8" x2="465.85" y2="338.8" stroke="#707070" stroke-width="0.9"/>
<line x1="464.35" y1="368.4" x2="464.35" y2="379.4" stroke="#707070" stroke-width="0.9"/>
<line x1="462.85" y1="379.4" x2="465.85" y2="379.4" stroke="#707070" stroke-width="0.9"/>
<rect x="462.1" y="355.5" width="4.5" height="12.9" fill="#6da6d8" stroke="#5c5c5c" stroke-width="0.7"/>
<line x1="462.1" y1="361.1" x2="466.6" y2="361.1" stroke="#5c5c5c" stroke-width="0.7"/>
<line x1="524.3" y1="311.4" x2="524.3" y2="324.2" stroke="#707070" stroke-width="0.9"/>
<line x1="522.8" y1="311.4" x2="525.8" y2="311.4" stroke="#707070" stroke-width="0.9"/>
<line x1="524.3" y1="378.7" x2="524.3" y2="408.7" stroke="#707070" stroke-width="0.9"/>
<line x1="522.8" y1="408.7" x2="525.8" y2="408.7" stroke="#707070" stroke-width="0.9"/>
<rect x="521.9" y="324.2" width="4.8" height="54.5" fill="#f58a34" stroke="#5c5c5c" stroke-width="0.7"/>
<line x1="521.9" y1="355.5" x2="526.7" y2="355.5" stroke="#5c5c5c" stroke-width="0.7"/>
<line x1="529.15" y1="351.1" x2="529.15" y2="359.4" stroke="#707070" stroke-width="0.9"/>
<line x1="527.65" y1="351.1" x2="530.65" y2="351.1" stroke="#707070" stroke-width="0.9"/>
<line x1="529.15" y1="366.3" x2="529.15" y2="372.5" stroke="#707070" stroke-width="0.9"/>
<line x1="527.65" y1="372.5" x2="530.65" y2="372.5" stroke="#707070" stroke-width="0.9"/>
<rect x="526.7" y="359.4" width="4.9" height="6.9" fill="#6da6d8" stroke="#5c5c5c" stroke-width="0.7"/>
<line x1="526.7" y1="362.1" x2="531.6" y2="362.1" stroke="#5c5c5c" stroke-width="0.7"/>
<line x1="547.2" y1="312.8" x2="547.2" y2="322.2" stroke="#707070" stroke-width="0.9"/>
<line x1="545.7" y1="312.8" x2="548.7" y2="312.8" stroke="#707070" stroke-width="0.9"/>
<line x1="547.2" y1="378.7" x2="547.2" y2="418" stroke="#707070" stroke-width="0.9"/>
<line x1="545.7" y1="418" x2="548.7" y2="418" stroke="#707070" stroke-width="0.9"/>
<rect x="544.7" y="322.2" width="5" height="56.5" fill="#f58a34" stroke="#5c5c5c" stroke-width="0.7"/>
<line x1="544.7" y1="353.8" x2="549.7" y2="353.8" stroke="#5c5c5c" stroke-width="0.7"/>
<line x1="552.05" y1="337.9" x2="552.05" y2="342.4" stroke="#707070" stroke-width="0.9"/>
<line x1="550.55" y1="337.9" x2="553.55" y2="337.9" stroke="#707070" stroke-width="0.9"/>
<line x1="552.05" y1="359.4" x2="552.05" y2="377.2" stroke="#707070" stroke-width="0.9"/>
<line x1="550.55" y1="377.2" x2="553.55" y2="377.2" stroke="#707070" stroke-width="0.9"/>
<rect x="549.7" y="342.4" width="4.7" height="17" fill="#6da6d8" stroke="#5c5c5c" stroke-width="0.7"/>
<line x1="549.7" y1="351.1" x2="554.4" y2="351.1" stroke="#5c5c5c" stroke-width="0.7"/>
<line x1="574.9" y1="321.7" x2="574.9" y2="328.4" stroke="#707070" stroke-width="0.9"/>
<line x1="573.4" y1="321.7" x2="576.4" y2="321.7" stroke="#707070" stroke-width="0.9"/>
<line x1="574.9" y1="355.3" x2="574.9" y2="363.8" stroke="#707070" stroke-width="0.9"/>
<line x1="573.4" y1="363.8" x2="576.4" y2="363.8" stroke="#707070" stroke-width="0.9"/>
<rect x="572.6" y="328.4" width="4.6" height="26.9" fill="#f58a34" stroke="#5c5c5c" stroke-width="0.7"/>
<line x1="572.6" y1="337.9" x2="577.2" y2="337.9" stroke="#5c5c5c" stroke-width="0.7"/>
<line x1="579.35" y1="341.4" x2="579.35" y2="352.4" stroke="#707070" stroke-width="0.9"/>
<line x1="577.85" y1="341.4" x2="580.85" y2="341.4" stroke="#707070" stroke-width="0.9"/>
<line x1="579.35" y1="364.2" x2="579.35" y2="377.2" stroke="#707070" stroke-width="0.9"/>
<line x1="577.85" y1="377.2" x2="580.85" y2="377.2" stroke="#707070" stroke-width="0.9"/>
<rect x="577.2" y="352.4" width="4.3" height="11.8" fill="#6da6d8" stroke="#5c5c5c" stroke-width="0.7"/>
<line x1="577.2" y1="360" x2="581.5" y2="360" stroke="#5c5c5c" stroke-width="0.7"/>
<rect x="349.1" y="361.8" width="28.6" height="13.2" fill="rgba(228,60,62,0.22)" stroke="rgba(228,60,62,0.18)" stroke-width="0.6"/>
<rect x="377.7" y="356.2" width="127.8" height="7.5" fill="rgba(228,60,62,0.22)" stroke="rgba(228,60,62,0.18)" stroke-width="0.6"/>
<rect x="505.5" y="350.7" width="37.1" height="12.4" fill="rgba(228,60,62,0.22)" stroke="rgba(228,60,62,0.18)" stroke-width="0.6"/>
<rect x="542.6" y="356.3" width="18.2" height="16.2" fill="rgba(228,60,62,0.22)" stroke="rgba(228,60,62,0.18)" stroke-width="0.6"/>
<rect x="560.8" y="361.5" width="28.4" height="11.4" fill="rgba(228,60,62,0.22)" stroke="rgba(228,60,62,0.18)" stroke-width="0.6"/>
<line x1="349.1" y1="368.5" x2="377.7" y2="368.5" stroke="#d8312c" stroke-width="1.6"/>
<line x1="377.7" y1="360.1" x2="505.5" y2="360.1" stroke="#d8312c" stroke-width="1.6"/>
<line x1="505.5" y1="357.3" x2="542.6" y2="357.3" stroke="#d8312c" stroke-width="1.6"/>
<line x1="542.6" y1="364.4" x2="560.8" y2="364.4" stroke="#d8312c" stroke-width="1.6"/>
<line x1="560.8" y1="366.9" x2="589.2" y2="366.9" stroke="#d8312c" stroke-width="1.6"/>
<line x1="324" y1="294.4" x2="596.2" y2="294.4" stroke="#404040" stroke-width="1.1"/>
<line x1="324" y1="423.7" x2="596.2" y2="423.7" stroke="#8a8a8a" stroke-width="1.7"/>
<line x1="324.5" y1="293.9" x2="324.5" y2="424.2" stroke="#404040" stroke-width="1.1"/>
<line x1="595.7" y1="293.9" x2="595.7" y2="424.2" stroke="#404040" stroke-width="1.1"/>
<path d="M326.5 423.7v2.4M331.11 423.7v2.4M335.71 423.7v2.4M340.32 423.7v2.4M344.93 423.7v2.4M349.53 423.7v2.4M354.14 423.7v2.4M358.75 423.7v2.4M363.36 423.7v2.4M367.96 423.7v2.4M372.57 423.7v2.4M377.18 423.7v2.4M381.78 423.7v2.4M386.39 423.7v2.4M391 423.7v2.4M395.6 423.7v2.4M400.21 423.7v2.4M404.82 423.7v2.4M409.42 423.7v2.4M414.03 423.7v2.4M418.64 423.7v2.4M423.24 423.7v2.4M427.85 423.7v2.4M432.46 423.7v2.4M437.07 423.7v2.4M441.67 423.7v2.4M446.28 423.7v2.4M450.89 423.7v2.4M455.49 423.7v2.4M460.1 423.7v2.4M464.71 423.7v2.4M469.31 423.7v2.4M473.92 423.7v2.4M478.53 423.7v2.4M483.13 423.7v2.4M487.74 423.7v2.4M492.35 423.7v2.4M496.96 423.7v2.4M501.56 423.7v2.4M506.17 423.7v2.4M510.78 423.7v2.4M515.38 423.7v2.4M519.99 423.7v2.4M524.6 423.7v2.4M529.2 423.7v2.4M533.81 423.7v2.4M538.42 423.7v2.4M543.02 423.7v2.4M547.63 423.7v2.4M552.24 423.7v2.4M556.84 423.7v2.4M561.45 423.7v2.4M566.06 423.7v2.4M570.67 423.7v2.4M575.27 423.7v2.4M579.88 423.7v2.4M584.49 423.7v2.4M589.09 423.7v2.4M593.7 423.7v2.4" stroke="#454545" stroke-width="0.9"/>
<text x="330.6" y="309" font-size="10.2" text-anchor="start" fill="#222" textLength="82.2" lengthAdjust="spacingAndGlyphs">Muztag Ata Massif</text>
<line x1="38.8" y1="507.4" x2="292.2" y2="507.4" stroke="#7a7a7a" stroke-width="1"/>
<line x1="161.35" y1="479.9" x2="161.35" y2="492.3" stroke="#707070" stroke-width="0.9"/>
<line x1="159.85" y1="479.9" x2="162.85" y2="479.9" stroke="#707070" stroke-width="0.9"/>
<line x1="161.35" y1="526.5" x2="161.35" y2="552.9" stroke="#707070" stroke-width="0.9"/>
<line x1="159.85" y1="552.9" x2="162.85" y2="552.9" stroke="#707070" stroke-width="0.9"/>
<rect x="159" y="492.3" width="4.7" height="34.2" fill="#f58a34" stroke="#5c5c5c" stroke-width="0.7"/>
<line x1="159" y1="502.7" x2="163.7" y2="502.7" stroke="#5c5c5c" stroke-width="0.7"/>
<line x1="165.65" y1="497.1" x2="165.65" y2="503.2" stroke="#707070" stroke-width="0.9"/>
<line x1="164.15" y1="497.1" x2="167.15" y2="497.1" stroke="#707070" stroke-width="0.9"/>
<line x1="165.65" y1="512.7" x2="165.65" y2="523.9" stroke="#707070" stroke-width="0.9"/>
<line x1="164.15" y1="523.9" x2="167.15" y2="523.9" stroke="#707070" stroke-width="0.9"/>
<rect x="163.7" y="503.2" width="3.9" height="9.5" fill="#6da6d8" stroke="#5c5c5c" stroke-width="0.7"/>
<line x1="163.7" y1="507.8" x2="167.6" y2="507.8" stroke="#5c5c5c" stroke-width="0.7"/>
<line x1="226.7" y1="478.1" x2="226.7" y2="496.3" stroke="#707070" stroke-width="0.9"/>
<line x1="225.2" y1="478.1" x2="228.2" y2="478.1" stroke="#707070" stroke-width="0.9"/>
<line x1="226.7" y1="524.4" x2="226.7" y2="531.3" stroke="#707070" stroke-width="0.9"/>
<line x1="225.2" y1="531.3" x2="228.2" y2="531.3" stroke="#707070" stroke-width="0.9"/>
<rect x="224.6" y="496.3" width="4.2" height="28.1" fill="#f58a34" stroke="#5c5c5c" stroke-width="0.7"/>
<line x1="224.6" y1="519.2" x2="228.8" y2="519.2" stroke="#5c5c5c" stroke-width="0.7"/>
<line x1="231.2" y1="482.5" x2="231.2" y2="501.1" stroke="#707070" stroke-width="0.9"/>
<line x1="229.7" y1="482.5" x2="232.7" y2="482.5" stroke="#707070" stroke-width="0.9"/>
<line x1="231.2" y1="516.6" x2="231.2" y2="523.9" stroke="#707070" stroke-width="0.9"/>
<line x1="229.7" y1="523.9" x2="232.7" y2="523.9" stroke="#707070" stroke-width="0.9"/>
<rect x="228.8" y="501.1" width="4.8" height="15.5" fill="#6da6d8" stroke="#5c5c5c" stroke-width="0.7"/>
<line x1="228.8" y1="510.9" x2="233.6" y2="510.9" stroke="#5c5c5c" stroke-width="0.7"/>
<line x1="257.4" y1="491.9" x2="257.4" y2="497.3" stroke="#707070" stroke-width="0.9"/>
<line x1="255.9" y1="491.9" x2="258.9" y2="491.9" stroke="#707070" stroke-width="0.9"/>
<line x1="257.4" y1="507.9" x2="257.4" y2="512.9" stroke="#707070" stroke-width="0.9"/>
<line x1="255.9" y1="512.9" x2="258.9" y2="512.9" stroke="#707070" stroke-width="0.9"/>
<rect x="255.3" y="497.3" width="4.2" height="10.6" fill="#f58a34" stroke="#5c5c5c" stroke-width="0.7"/>
<line x1="255.3" y1="502.4" x2="259.5" y2="502.4" stroke="#5c5c5c" stroke-width="0.7"/>
<line x1="261.45" y1="495.7" x2="261.45" y2="501.2" stroke="#707070" stroke-width="0.9"/>
<line x1="259.95" y1="495.7" x2="262.95" y2="495.7" stroke="#707070" stroke-width="0.9"/>
<line x1="261.45" y1="510.2" x2="261.45" y2="515.7" stroke="#707070" stroke-width="0.9"/>
<line x1="259.95" y1="515.7" x2="262.95" y2="515.7" stroke="#707070" stroke-width="0.9"/>
<rect x="259.5" y="501.2" width="3.9" height="9" fill="#6da6d8" stroke="#5c5c5c" stroke-width="0.7"/>
<line x1="259.5" y1="506.3" x2="263.4" y2="506.3" stroke="#5c5c5c" stroke-width="0.7"/>
<line x1="266.15" y1="456.2" x2="266.15" y2="483.5" stroke="#707070" stroke-width="0.9"/>
<line x1="264.65" y1="456.2" x2="267.65" y2="456.2" stroke="#707070" stroke-width="0.9"/>
<line x1="266.15" y1="520.3" x2="266.15" y2="531.2" stroke="#707070" stroke-width="0.9"/>
<line x1="264.65" y1="531.2" x2="267.65" y2="531.2" stroke="#707070" stroke-width="0.9"/>
<rect x="263.9" y="483.5" width="4.5" height="36.8" fill="#f58a34" stroke="#5c5c5c" stroke-width="0.7"/>
<line x1="263.9" y1="509.9" x2="268.4" y2="509.9" stroke="#5c5c5c" stroke-width="0.7"/>
<line x1="270.7" y1="482.5" x2="270.7" y2="493.1" stroke="#707070" stroke-width="0.9"/>
<line x1="269.2" y1="482.5" x2="272.2" y2="482.5" stroke="#707070" stroke-width="0.9"/>
<line x1="270.7" y1="515.3" x2="270.7" y2="528.1" stroke="#707070" stroke-width="0.9"/>
<line x1="269.2" y1="528.1" x2="272.2" y2="528.1" stroke="#707070" stroke-width="0.9"/>
<rect x="268.6" y="493.1" width="4.2" height="22.2" fill="#6da6d8" stroke="#5c5c5c" stroke-width="0.7"/>
<line x1="268.6" y1="503.5" x2="272.8" y2="503.5" stroke="#5c5c5c" stroke-width="0.7"/>
<line x1="274.9" y1="474.4" x2="274.9" y2="477.2" stroke="#707070" stroke-width="0.9"/>
<line x1="273.4" y1="474.4" x2="276.4" y2="474.4" stroke="#707070" stroke-width="0.9"/>
<line x1="274.9" y1="482.2" x2="274.9" y2="484.5" stroke="#707070" stroke-width="0.9"/>
<line x1="273.4" y1="484.5" x2="276.4" y2="484.5" stroke="#707070" stroke-width="0.9"/>
<rect x="272.8" y="477.2" width="4.2" height="5" fill="#f58a34" stroke="#5c5c5c" stroke-width="0.7"/>
<line x1="272.8" y1="479.6" x2="277" y2="479.6" stroke="#5c5c5c" stroke-width="0.7"/>
<line x1="279.2" y1="513.6" x2="279.2" y2="517.2" stroke="#707070" stroke-width="0.9"/>
<line x1="277.7" y1="513.6" x2="280.7" y2="513.6" stroke="#707070" stroke-width="0.9"/>
<line x1="279.2" y1="524.2" x2="279.2" y2="528.1" stroke="#707070" stroke-width="0.9"/>
<line x1="277.7" y1="528.1" x2="280.7" y2="528.1" stroke="#707070" stroke-width="0.9"/>
<rect x="277.1" y="517.2" width="4.2" height="7" fill="#6da6d8" stroke="#5c5c5c" stroke-width="0.7"/>
<line x1="277.1" y1="521.1" x2="281.3" y2="521.1" stroke="#5c5c5c" stroke-width="0.7"/>
<rect x="55.8" y="508.2" width="149.5" height="12.6" fill="rgba(228,60,62,0.22)" stroke="rgba(228,60,62,0.18)" stroke-width="0.6"/>
<rect x="205.3" y="508" width="48" height="12.6" fill="rgba(228,60,62,0.22)" stroke="rgba(228,60,62,0.18)" stroke-width="0.6"/>
<rect x="253.3" y="504.5" width="8.6" height="6.8" fill="rgba(228,60,62,0.22)" stroke="rgba(228,60,62,0.18)" stroke-width="0.6"/>
<rect x="261.9" y="513.8" width="12.1" height="12" fill="rgba(228,60,62,0.22)" stroke="rgba(228,60,62,0.18)" stroke-width="0.6"/>
<rect x="274" y="514.9" width="9.3" height="11.6" fill="rgba(228,60,62,0.22)" stroke="rgba(228,60,62,0.18)" stroke-width="0.6"/>
<rect x="283.3" y="512.2" width="5.3" height="19.3" fill="rgba(228,60,62,0.22)" stroke="rgba(228,60,62,0.18)" stroke-width="0.6"/>
<line x1="55.8" y1="514.4" x2="205.3" y2="514.4" stroke="#d8312c" stroke-width="1.6"/>
<line x1="205.3" y1="514.4" x2="253.3" y2="514.4" stroke="#d8312c" stroke-width="1.6"/>
<line x1="253.3" y1="508.3" x2="261.9" y2="508.3" stroke="#d8312c" stroke-width="1.6"/>
<line x1="261.9" y1="519.2" x2="274" y2="519.2" stroke="#d8312c" stroke-width="1.6"/>
<line x1="274" y1="520.3" x2="283.3" y2="520.3" stroke="#d8312c" stroke-width="1.6"/>
<line x1="283.3" y1="521.9" x2="288.6" y2="521.9" stroke="#d8312c" stroke-width="1.6"/>
<line x1="36.3" y1="448" x2="294.9" y2="448" stroke="#a3a3a3" stroke-width="1.7"/>
<line x1="36.3" y1="566.4" x2="294.9" y2="566.4" stroke="#a3a3a3" stroke-width="1.7"/>
<line x1="36.8" y1="447.5" x2="36.8" y2="566.9" stroke="#8a8a8a" stroke-width="1.7"/>
<line x1="294.4" y1="447.5" x2="294.4" y2="566.9" stroke="#404040" stroke-width="1.1"/>
<path d="M38.8 566.4v2.4M43.17 566.4v2.4M47.54 566.4v2.4M51.92 566.4v2.4M56.29 566.4v2.4M60.66 566.4v2.4M65.03 566.4v2.4M69.41 566.4v2.4M73.78 566.4v2.4M78.15 566.4v2.4M82.52 566.4v2.4M86.9 566.4v2.4M91.27 566.4v2.4M95.64 566.4v2.4M100.01 566.4v2.4M104.39 566.4v2.4M108.76 566.4v2.4M113.13 566.4v2.4M117.5 566.4v2.4M121.88 566.4v2.4M126.25 566.4v2.4M130.62 566.4v2.4M134.99 566.4v2.4M139.37 566.4v2.4M143.74 566.4v2.4M148.11 566.4v2.4M152.48 566.4v2.4M156.86 566.4v2.4M161.23 566.4v2.4M165.6 566.4v2.4M169.97 566.4v2.4M174.34 566.4v2.4M178.72 566.4v2.4M183.09 566.4v2.4M187.46 566.4v2.4M191.83 566.4v2.4M196.21 566.4v2.4M200.58 566.4v2.4M204.95 566.4v2.4M209.32 566.4v2.4M213.7 566.4v2.4M218.07 566.4v2.4M222.44 566.4v2.4M226.81 566.4v2.4M231.19 566.4v2.4M235.56 566.4v2.4M239.93 566.4v2.4M244.3 566.4v2.4M248.68 566.4v2.4M253.05 566.4v2.4M257.42 566.4v2.4M261.79 566.4v2.4M266.17 566.4v2.4M270.54 566.4v2.4M274.91 566.4v2.4M279.28 566.4v2.4M283.66 566.4v2.4M288.03 566.4v2.4M292.4 566.4v2.4" stroke="#454545" stroke-width="0.9"/>
<text x="43" y="464.1" font-size="10.2" text-anchor="start" fill="#222" textLength="72.6" lengthAdjust="spacingAndGlyphs">Gurla Mandhata</text>
<text x="32" y="6.55" font-size="9.8" text-anchor="end" fill="#222">2.0</text>
<text x="32" y="22.61" font-size="9.8" text-anchor="end" fill="#222">1.5</text>
<text x="32" y="38.67" font-size="9.8" text-anchor="end" fill="#222">1.0</text>
<text x="32" y="54.73" font-size="9.8" text-anchor="end" fill="#222">0.5</text>
<text x="32" y="70.79" font-size="9.8" text-anchor="end" fill="#222">0.0</text>
<text x="32" y="86.85" font-size="9.8" text-anchor="end" fill="#222">-0.5</text>
<text x="32" y="102.91" font-size="9.8" text-anchor="end" fill="#222">-1.0</text>
<text x="32" y="118.97" font-size="9.8" text-anchor="end" fill="#222">-1.5</text>
<text x="32" y="135.03" font-size="9.8" text-anchor="end" fill="#222">-2.0</text>
<path d="M37.3 3.5h-3M37.3 19.73h-3M37.3 35.95h-3M37.3 52.18h-3M37.3 68.4h-3M37.3 84.62h-3M37.3 100.85h-3M37.3 117.08h-3M37.3 133.3h-3" stroke="#454545" stroke-width="0.9"/>
<text x="8.8" y="68.3" font-size="10" text-anchor="middle" fill="#222" textLength="30.3" lengthAdjust="spacingAndGlyphs" transform="rotate(-90 8.8 68.3)">SumTA</text>
<text x="32.3" y="153.7" font-size="9.8" text-anchor="end" fill="#222">2.0</text>
<text x="32.3" y="169.66" font-size="9.8" text-anchor="end" fill="#222">1.5</text>
<text x="32.3" y="185.62" font-size="9.8" text-anchor="end" fill="#222">1.0</text>
<text x="32.3" y="201.58" font-size="9.8" text-anchor="end" fill="#222">0.5</text>
<text x="32.3" y="217.54" font-size="9.8" text-anchor="end" fill="#222">0.0</text>
<text x="32.3" y="233.5" font-size="9.8" text-anchor="end" fill="#222">-0.5</text>
<text x="32.3" y="249.46" font-size="9.8" text-anchor="end" fill="#222">-1.0</text>
<text x="32.3" y="265.42" font-size="9.8" text-anchor="end" fill="#222">-1.5</text>
<text x="32.3" y="281.38" font-size="9.8" text-anchor="end" fill="#222">-2.0</text>
<path d="M36.6 149.4h-3M36.6 165.61h-3M36.6 181.83h-3M36.6 198.04h-3M36.6 214.25h-3M36.6 230.46h-3M36.6 246.68h-3M36.6 262.89h-3M36.6 279.1h-3" stroke="#454545" stroke-width="0.9"/>
<text x="8.8" y="214.8" font-size="10" text-anchor="middle" fill="#222" textLength="30.3" lengthAdjust="spacingAndGlyphs" transform="rotate(-90 8.8 214.8)">SumTA</text>
<text x="32.4" y="299.6" font-size="9.8" text-anchor="end" fill="#222">2.0</text>
<text x="32.4" y="315.6" font-size="9.8" text-anchor="end" fill="#222">1.5</text>
<text x="32.4" y="331.6" font-size="9.8" text-anchor="end" fill="#222">1.0</text>
<text x="32.4" y="347.6" font-size="9.8" text-anchor="end" fill="#222">0.5</text>
<text x="32.4" y="363.6" font-size="9.8" text-anchor="end" fill="#222">0.0</text>
<text x="32.4" y="379.6" font-size="9.8" text-anchor="end" fill="#222">-0.5</text>
<text x="32.4" y="395.6" font-size="9.8" text-anchor="end" fill="#222">-1.0</text>
<text x="32.4" y="411.6" font-size="9.8" text-anchor="end" fill="#222">-1.5</text>
<text x="32.4" y="427.6" font-size="9.8" text-anchor="end" fill="#222">-2.0</text>
<path d="M36.8 295.5h-3M36.8 311.59h-3M36.8 327.68h-3M36.8 343.76h-3M36.8 359.85h-3M36.8 375.94h-3M36.8 392.02h-3M36.8 408.11h-3M36.8 424.2h-3" stroke="#454545" stroke-width="0.9"/>
<text x="9.2" y="358.3" font-size="10" text-anchor="middle" fill="#222" textLength="30.3" lengthAdjust="spacingAndGlyphs" transform="rotate(-90 9.2 358.3)">SumTA</text>
<text x="32.5" y="452" font-size="9.8" text-anchor="end" fill="#222">2.0</text>
<text x="32.5" y="466.8" font-size="9.8" text-anchor="end" fill="#222">1.5</text>
<text x="32.5" y="481.6" font-size="9.8" text-anchor="end" fill="#222">1.0</text>
<text x="32.5" y="496.4" font-size="9.8" text-anchor="end" fill="#222">0.5</text>
<text x="32.5" y="511.2" font-size="9.8" text-anchor="end" fill="#222">0.0</text>
<text x="32.5" y="526" font-size="9.8" text-anchor="end" fill="#222">-0.5</text>
<text x="32.5" y="540.8" font-size="9.8" text-anchor="end" fill="#222">-1.0</text>
<text x="32.5" y="555.6" font-size="9.8" text-anchor="end" fill="#222">-1.5</text>
<text x="32.5" y="570.4" font-size="9.8" text-anchor="end" fill="#222">-2.0</text>
<path d="M36.8 448h-3M36.8 462.8h-3M36.8 477.6h-3M36.8 492.4h-3M36.8 507.2h-3M36.8 522h-3M36.8 536.8h-3M36.8 551.6h-3M36.8 566.4h-3" stroke="#454545" stroke-width="0.9"/>
<text x="10.3" y="506.7" font-size="10" text-anchor="middle" fill="#222" textLength="30.3" lengthAdjust="spacingAndGlyphs" transform="rotate(-90 10.3 506.7)">SumTA</text>
<text x="326.5" y="436.2" font-size="9.8" text-anchor="middle" fill="#222" textLength="22.6" lengthAdjust="spacingAndGlyphs">1962</text>
<text x="363.14" y="436.2" font-size="9.8" text-anchor="middle" fill="#222" textLength="22.6" lengthAdjust="spacingAndGlyphs">1970</text>
<text x="399.78" y="436.2" font-size="9.8" text-anchor="middle" fill="#222" textLength="22.6" lengthAdjust="spacingAndGlyphs">1978</text>
<text x="436.42" y="436.2" font-size="9.8" text-anchor="middle" fill="#222" textLength="22.6" lengthAdjust="spacingAndGlyphs">1986</text>
<text x="473.06" y="436.2" font-size="9.8" text-anchor="middle" fill="#222" textLength="22.6" lengthAdjust="spacingAndGlyphs">1994</text>
<text x="509.7" y="436.2" font-size="9.8" text-anchor="middle" fill="#222" textLength="22.6" lengthAdjust="spacingAndGlyphs">2002</text>
<text x="546.34" y="436.2" font-size="9.8" text-anchor="middle" fill="#222" textLength="22.6" lengthAdjust="spacingAndGlyphs">2010</text>
<text x="582.98" y="436.2" font-size="9.8" text-anchor="middle" fill="#222" textLength="22.6" lengthAdjust="spacingAndGlyphs">2018</text>
<text x="39.6" y="578.2" font-size="9.8" text-anchor="middle" fill="#222" textLength="22.2" lengthAdjust="spacingAndGlyphs">1962</text>
<text x="74.41" y="578.2" font-size="9.8" text-anchor="middle" fill="#222" textLength="22.2" lengthAdjust="spacingAndGlyphs">1970</text>
<text x="109.22" y="578.2" font-size="9.8" text-anchor="middle" fill="#222" textLength="22.2" lengthAdjust="spacingAndGlyphs">1978</text>
<text x="144.03" y="578.2" font-size="9.8" text-anchor="middle" fill="#222" textLength="22.2" lengthAdjust="spacingAndGlyphs">1986</text>
<text x="178.84" y="578.2" font-size="9.8" text-anchor="middle" fill="#222" textLength="22.2" lengthAdjust="spacingAndGlyphs">1994</text>
<text x="213.65" y="578.2" font-size="9.8" text-anchor="middle" fill="#222" textLength="22.2" lengthAdjust="spacingAndGlyphs">2002</text>
<text x="248.46" y="578.2" font-size="9.8" text-anchor="middle" fill="#222" textLength="22.2" lengthAdjust="spacingAndGlyphs">2010</text>
<text x="283.27" y="578.2" font-size="9.8" text-anchor="middle" fill="#222" textLength="22.2" lengthAdjust="spacingAndGlyphs">2018</text>
<line x1="290" y1="492.4" x2="294.3" y2="492.4" stroke="#555" stroke-width="1"/>
<line x1="285.8" y1="502.3" x2="290.2" y2="502.3" stroke="#666" stroke-width="1.1" stroke-linecap="round"/>
<text x="607.5" y="20.55" font-size="10.2" text-anchor="middle" fill="#222">200</text>
<text x="607.5" y="46.55" font-size="10.2" text-anchor="middle" fill="#222">100</text>
<text x="607.5" y="72.55" font-size="10.2" text-anchor="middle" fill="#222">00</text>
<text x="607.5" y="98.55" font-size="10.2" text-anchor="middle" fill="#222">-100</text>
<text x="607.5" y="124.55" font-size="10.2" text-anchor="middle" fill="#222">-200</text>
<path d="M594.2 17.35h3M594.2 43.35h3M594.2 69.35h3M594.2 95.35h3M594.2 121.35h3" stroke="#505050" stroke-width="0.9"/>
<text x="632" y="65.5" font-size="10" text-anchor="middle" fill="#222" textLength="24.1" lengthAdjust="spacingAndGlyphs" transform="rotate(-90 632 65.5)">SolPA</text>
<line x1="642.4" y1="4.3" x2="642.4" y2="134.1" stroke="#7c7c7c" stroke-width="1.4"/>
<text x="669.7" y="7.4" font-size="10.2" text-anchor="end" fill="#222">1.00</text>
<text x="669.7" y="23.62" font-size="10.2" text-anchor="end" fill="#222">0.75</text>
<text x="669.7" y="39.85" font-size="10.2" text-anchor="end" fill="#222">0.50</text>
<text x="669.7" y="56.07" font-size="10.2" text-anchor="end" fill="#222">0.25</text>
<text x="669.7" y="72.3" font-size="10.2" text-anchor="end" fill="#222">0.00</text>
<text x="669.7" y="88.52" font-size="10.2" text-anchor="end" fill="#222">-0.25</text>
<text x="669.7" y="104.75" font-size="10.2" text-anchor="end" fill="#222">-0.50</text>
<text x="669.7" y="120.97" font-size="10.2" text-anchor="end" fill="#222">-0.75</text>
<text x="669.7" y="137.2" font-size="10.2" text-anchor="end" fill="#222">-1.00</text>
<path d="M642.4 4.3h2.6M642.4 20.52h2.6M642.4 36.75h2.6M642.4 52.97h2.6M642.4 69.2h2.6M642.4 85.42h2.6M642.4 101.65h2.6M642.4 117.87h2.6M642.4 134.1h2.6" stroke="#7a7a7a" stroke-width="0.9"/>
<text x="684.8" y="68.75" font-size="10" text-anchor="middle" fill="#222" textLength="14.8" lengthAdjust="spacingAndGlyphs" transform="rotate(-90 684.8 68.75)">MB</text>
<text x="608.7" y="153.6" font-size="10.2" text-anchor="middle" fill="#222">200</text>
<text x="608.7" y="169.81" font-size="10.2" text-anchor="middle" fill="#222">150</text>
<text x="608.7" y="186.03" font-size="10.2" text-anchor="middle" fill="#222">100</text>
<text x="608.7" y="202.24" font-size="10.2" text-anchor="middle" fill="#222">50</text>
<text x="608.7" y="218.45" font-size="10.2" text-anchor="middle" fill="#222">00</text>
<text x="608.7" y="234.66" font-size="10.2" text-anchor="middle" fill="#222">-50</text>
<text x="608.7" y="250.88" font-size="10.2" text-anchor="middle" fill="#222">-100</text>
<text x="608.7" y="267.09" font-size="10.2" text-anchor="middle" fill="#222">-150</text>
<text x="608.7" y="283.3" font-size="10.2" text-anchor="middle" fill="#222">-200</text>
<path d="M594.4 150.4h3M594.4 166.61h3M594.4 182.83h3M594.4 199.04h3M594.4 215.25h3M594.4 231.46h3M594.4 247.68h3M594.4 263.89h3M594.4 280.1h3" stroke="#505050" stroke-width="0.9"/>
<text x="632.3" y="210.95" font-size="10" text-anchor="middle" fill="#222" textLength="25.2" lengthAdjust="spacingAndGlyphs" transform="rotate(-90 632.3 210.95)">SolPA</text>
<line x1="642.7" y1="149.8" x2="642.7" y2="279.2" stroke="#7c7c7c" stroke-width="1.4"/>
<text x="669.8" y="152.9" font-size="10.2" text-anchor="end" fill="#222">1.00</text>
<text x="669.8" y="169.08" font-size="10.2" text-anchor="end" fill="#222">0.75</text>
<text x="669.8" y="185.25" font-size="10.2" text-anchor="end" fill="#222">0.50</text>
<text x="669.8" y="201.42" font-size="10.2" text-anchor="end" fill="#222">0.25</text>
<text x="669.8" y="217.6" font-size="10.2" text-anchor="end" fill="#222">0.00</text>
<text x="669.8" y="233.78" font-size="10.2" text-anchor="end" fill="#222">-0.25</text>
<text x="669.8" y="249.95" font-size="10.2" text-anchor="end" fill="#222">-0.50</text>
<text x="669.8" y="266.12" font-size="10.2" text-anchor="end" fill="#222">-0.75</text>
<text x="669.8" y="282.3" font-size="10.2" text-anchor="end" fill="#222">-1.00</text>
<path d="M642.7 149.8h2.6M642.7 165.98h2.6M642.7 182.15h2.6M642.7 198.32h2.6M642.7 214.5h2.6M642.7 230.68h2.6M642.7 246.85h2.6M642.7 263.02h2.6M642.7 279.2h2.6" stroke="#7a7a7a" stroke-width="0.9"/>
<text x="684.8" y="213.55" font-size="10" text-anchor="middle" fill="#222" textLength="15" lengthAdjust="spacingAndGlyphs" transform="rotate(-90 684.8 213.55)">MB</text>
<text x="610.5" y="310.45" font-size="10.2" text-anchor="middle" fill="#222">200</text>
<text x="610.5" y="336.35" font-size="10.2" text-anchor="middle" fill="#222">100</text>
<text x="610.5" y="362.25" font-size="10.2" text-anchor="middle" fill="#222">00</text>
<text x="610.5" y="388.15" font-size="10.2" text-anchor="middle" fill="#222">-100</text>
<text x="610.5" y="414.05" font-size="10.2" text-anchor="middle" fill="#222">-200</text>
<path d="M595.7 307.25h3M595.7 333.15h3M595.7 359.05h3M595.7 384.95h3M595.7 410.85h3" stroke="#505050" stroke-width="0.9"/>
<text x="632.3" y="357.4" font-size="10" text-anchor="middle" fill="#222" textLength="25" lengthAdjust="spacingAndGlyphs" transform="rotate(-90 632.3 357.4)">SolPA</text>
<line x1="644.4" y1="294.4" x2="644.4" y2="423" stroke="#7c7c7c" stroke-width="1.4"/>
<text x="670.3" y="297.5" font-size="10.2" text-anchor="end" fill="#222">1.00</text>
<text x="670.3" y="313.57" font-size="10.2" text-anchor="end" fill="#222">0.75</text>
<text x="670.3" y="329.65" font-size="10.2" text-anchor="end" fill="#222">0.50</text>
<text x="670.3" y="345.73" font-size="10.2" text-anchor="end" fill="#222">0.25</text>
<text x="670.3" y="361.8" font-size="10.2" text-anchor="end" fill="#222">0.00</text>
<text x="670.3" y="377.88" font-size="10.2" text-anchor="end" fill="#222">-0.25</text>
<text x="670.3" y="393.95" font-size="10.2" text-anchor="end" fill="#222">-0.50</text>
<text x="670.3" y="410.03" font-size="10.2" text-anchor="end" fill="#222">-0.75</text>
<text x="670.3" y="426.1" font-size="10.2" text-anchor="end" fill="#222">-1.00</text>
<path d="M644.4 294.4h2.6M644.4 310.47h2.6M644.4 326.55h2.6M644.4 342.62h2.6M644.4 358.7h2.6M644.4 374.77h2.6M644.4 390.85h2.6M644.4 406.93h2.6M644.4 423h2.6" stroke="#7a7a7a" stroke-width="0.9"/>
<text x="684.9" y="356.55" font-size="10" text-anchor="middle" fill="#222" textLength="15.2" lengthAdjust="spacingAndGlyphs" transform="rotate(-90 684.9 356.55)">MB</text>
<text x="312.9" y="451.6" font-size="10.2" text-anchor="middle" fill="#222">3000</text>
<text x="312.9" y="471.33" font-size="10.2" text-anchor="middle" fill="#222">2000</text>
<text x="312.9" y="491.07" font-size="10.2" text-anchor="middle" fill="#222">1000</text>
<text x="312.9" y="510.8" font-size="10.2" text-anchor="middle" fill="#222">00</text>
<text x="312.9" y="530.53" font-size="10.2" text-anchor="middle" fill="#222">-1000</text>
<text x="312.9" y="550.27" font-size="10.2" text-anchor="middle" fill="#222">-2000</text>
<text x="312.9" y="570" font-size="10.2" text-anchor="middle" fill="#222">-3000</text>
<path d="M294.4 448h3M294.4 467.73h3M294.4 487.47h3M294.4 507.2h3M294.4 526.93h3M294.4 546.67h3M294.4 566.4h3" stroke="#505050" stroke-width="0.9"/>
<text x="332.5" y="506.5" font-size="10" text-anchor="middle" fill="#222" textLength="24.8" lengthAdjust="spacingAndGlyphs" transform="rotate(-90 332.5 506.5)">SolPA</text>
<line x1="342.7" y1="448.2" x2="342.7" y2="566.6" stroke="#7c7c7c" stroke-width="1.4"/>
<text x="370.4" y="451.3" font-size="10.2" text-anchor="end" fill="#222">1.00</text>
<text x="370.4" y="466.1" font-size="10.2" text-anchor="end" fill="#222">0.75</text>
<text x="370.4" y="480.9" font-size="10.2" text-anchor="end" fill="#222">0.50</text>
<text x="370.4" y="495.7" font-size="10.2" text-anchor="end" fill="#222">0.25</text>
<text x="370.4" y="510.5" font-size="10.2" text-anchor="end" fill="#222">0.00</text>
<text x="370.4" y="525.3" font-size="10.2" text-anchor="end" fill="#222">-0.25</text>
<text x="370.4" y="540.1" font-size="10.2" text-anchor="end" fill="#222">-0.50</text>
<text x="370.4" y="554.9" font-size="10.2" text-anchor="end" fill="#222">-0.75</text>
<text x="370.4" y="569.7" font-size="10.2" text-anchor="end" fill="#222">-1.00</text>
<path d="M342.7 448.2h2.6M342.7 463h2.6M342.7 477.8h2.6M342.7 492.6h2.6M342.7 507.4h2.6M342.7 522.2h2.6M342.7 537h2.6M342.7 551.8h2.6M342.7 566.6h2.6" stroke="#7a7a7a" stroke-width="0.9"/>
<text x="385.5" y="506.75" font-size="10" text-anchor="middle" fill="#222" textLength="14.8" lengthAdjust="spacingAndGlyphs" transform="rotate(-90 385.5 506.75)">MB</text>
<rect x="423.2" y="449.8" width="56.9" height="10.1" fill="#547eb0"/>
<rect x="423.2" y="464" width="56.9" height="10.5" fill="#f36b0e"/>
<text x="484.8" y="458.1" font-size="10.2" text-anchor="start" fill="#222" textLength="183.6" lengthAdjust="spacingAndGlyphs">Solid Precipitation Anomaly (SolPA) (mm)</text>
<text x="484.8" y="473" font-size="10.2" text-anchor="start" fill="#222" textLength="197.2" lengthAdjust="spacingAndGlyphs">Summer Temperature Anomaly (SumTA) (<tspan font-size="6" dy="-3.2">0</tspan><tspan dy="3.2">C)</tspan></text>
<text x="382.6" y="489.6" font-size="10.2" text-anchor="start" fill="#222" textLength="79.4" lengthAdjust="spacingAndGlyphs">Uncertainty range</text>
<line x1="465.4" y1="487.4" x2="477.5" y2="487.4" stroke="#111" stroke-width="1.1"/>
<path d="M480 487.4 l-3.2 -1.8 v3.6z" fill="#111"/>
<line x1="481.2" y1="482.4" x2="481.2" y2="492.2" stroke="#8a8a8a" stroke-width="0.9"/>
<line x1="480" y1="482.4" x2="482.4" y2="482.4" stroke="#8a8a8a" stroke-width="0.9"/>
<line x1="480" y1="492.2" x2="482.4" y2="492.2" stroke="#8a8a8a" stroke-width="0.9"/>
<rect x="482.4" y="481.6" width="58" height="10.9" fill="rgba(236,120,125,0.35)"/>
<line x1="482.4" y1="487.3" x2="540.2" y2="487.3" stroke="#d8312c" stroke-width="1.3"/>
<text x="550.7" y="491" font-size="10.2" text-anchor="start" fill="#222" textLength="113.5" lengthAdjust="spacingAndGlyphs">Mean Mass Balance (MB)</text>
<text x="585.5" y="503.6" font-size="10.2" text-anchor="start" fill="#222" textLength="43.8" lengthAdjust="spacingAndGlyphs">(mw.e.a<tspan font-size="6" dy="-3.2">-1</tspan><tspan dy="3.2">)</tspan></text>
<line x1="452.7" y1="503.8" x2="452.7" y2="522" stroke="#1a1a1a" stroke-width="1.3"/>
<line x1="451.4" y1="503.8" x2="454.4" y2="503.8" stroke="#1a1a1a" stroke-width="1.1"/>
<line x1="452.7" y1="563.6" x2="452.7" y2="573.1" stroke="#1a1a1a" stroke-width="1.3"/>
<line x1="451.4" y1="573.1" x2="454.4" y2="573.1" stroke="#1a1a1a" stroke-width="1.1"/>
<rect x="446.8" y="522" width="13.1" height="41.6" fill="#2f6b9c"/>
<line x1="446.8" y1="546.8" x2="459.9" y2="546.8" stroke="#111" stroke-width="1.4"/>
<line x1="460.2" y1="503.5" x2="473" y2="503.5" stroke="#1a1a1a" stroke-width="1.1"/>
<path d="M457.7 503.5 l3 -1.7 v3.4z" fill="#111"/>
<line x1="463.5" y1="522.2" x2="475.3" y2="522.2" stroke="#1a1a1a" stroke-width="1.1"/>
<path d="M461 522.2 l3 -1.7 v3.4z" fill="#111"/>
<line x1="463.5" y1="546.5" x2="475.3" y2="546.5" stroke="#1a1a1a" stroke-width="1.1"/>
<path d="M461 546.5 l3 -1.7 v3.4z" fill="#111"/>
<line x1="463.5" y1="563.3" x2="476" y2="563.3" stroke="#1a1a1a" stroke-width="1.1"/>
<path d="M461 563.3 l3 -1.7 v3.4z" fill="#111"/>
<line x1="460.2" y1="573.3" x2="472.3" y2="573.3" stroke="#1a1a1a" stroke-width="1.1"/>
<path d="M457.7 573.3 l3 -1.7 v3.4z" fill="#111"/>
<text x="477.9" y="506.4" font-size="10.2" text-anchor="start" fill="#222" textLength="44.4" lengthAdjust="spacingAndGlyphs">Maximum</text>
<text x="477.9" y="525.4" font-size="10.2" text-anchor="start" fill="#222" textLength="49.6" lengthAdjust="spacingAndGlyphs">3<tspan font-size="6" dy="-3.2">rd</tspan><tspan dy="3.2"> Quartile</tspan></text>
<text x="479.6" y="549.7" font-size="10.2" text-anchor="start" fill="#222" textLength="33.3" lengthAdjust="spacingAndGlyphs">Median</text>
<text x="477" y="566.5" font-size="10.2" text-anchor="start" fill="#222" textLength="48.6" lengthAdjust="spacingAndGlyphs">1<tspan font-size="6" dy="-3.2">st</tspan><tspan dy="3.2"> Quartile</tspan></text>
<text x="477.9" y="576.5" font-size="10.2" text-anchor="start" fill="#222" textLength="42.9" lengthAdjust="spacingAndGlyphs">Minimum</text>
<line x1="542.9" y1="521.9" x2="542.9" y2="563.3" stroke="#111" stroke-width="1.2"/>
<line x1="536.4" y1="521.9" x2="549.4" y2="521.9" stroke="#111" stroke-width="1.2"/>
<line x1="536.4" y1="563.3" x2="549.4" y2="563.3" stroke="#111" stroke-width="1.2"/>
<line x1="546.6" y1="541.5" x2="558.6" y2="541.5" stroke="#1a1a1a" stroke-width="1.1"/>
<path d="M544.1 541.5 l3 -1.7 v3.4z" fill="#111"/>
<text x="561.4" y="544.9" font-size="10.2" text-anchor="start" fill="#222" textLength="115.7" lengthAdjust="spacingAndGlyphs">Inter Quartile Range (IQR)</text>
</svg></body></html>
